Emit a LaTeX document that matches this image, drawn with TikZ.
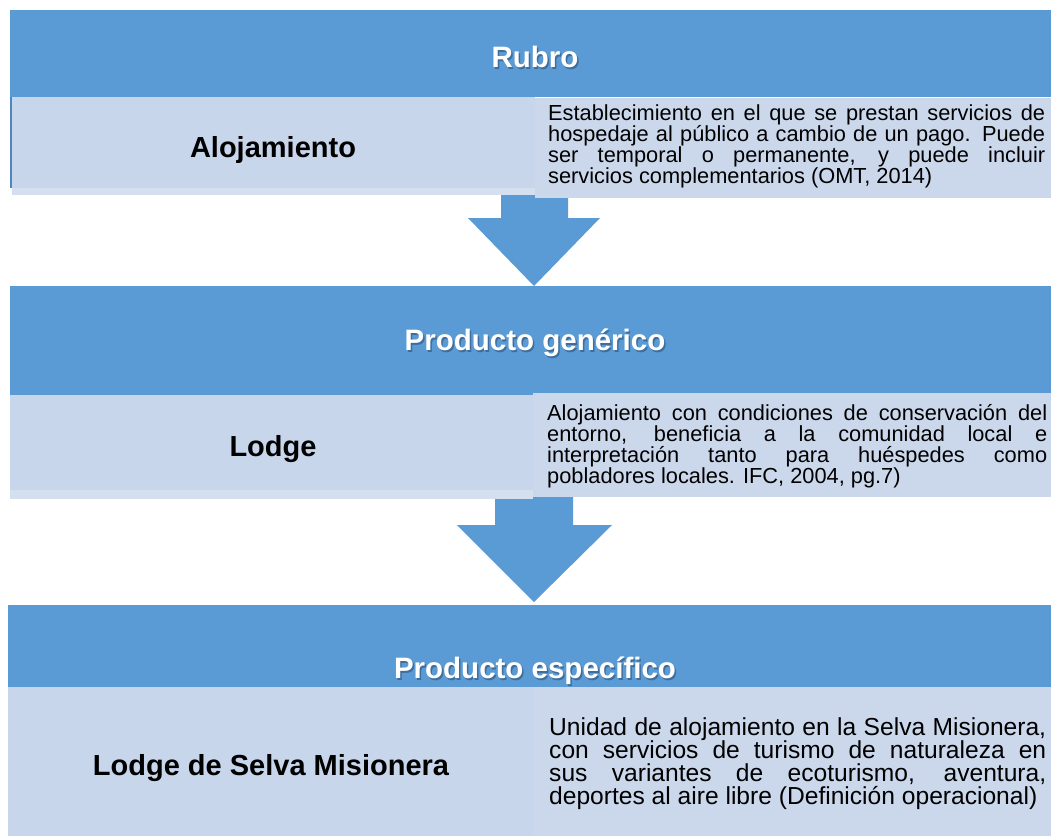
\documentclass[tikz,border=0pt]{standalone}
\usepackage{fontspec}
\setmainfont{Liberation Sans}
\definecolor{hdr}{HTML}{5B9BD5}
\definecolor{rowc}{HTML}{C8D6EC}
\definecolor{rowr}{HTML}{CBD8EC}
\definecolor{rowlt}{HTML}{D4DFF0}
\definecolor{shad}{HTML}{3F6E9C}
\definecolor{edge}{HTML}{4F86BE}
\tikzset{
  hdrbox/.style={fill=hdr, draw=none, anchor=north west, inner sep=0pt},
  cellbox/.style={fill=rowc, draw=none, anchor=north west, inner sep=0pt},
  rcellbox/.style={fill=rowr, draw=none, anchor=north west, inner sep=0pt},
  hdrtext/.style={font=\bfseries\fontsize{29.5}{34}\selectfont, text=white, inner sep=0pt},
  hdrshadow/.style={font=\bfseries\fontsize{29.5}{34}\selectfont, text=shad, inner sep=0pt},
  lbl/.style={font=\bfseries\fontsize{29}{34}\selectfont, text=black, inner sep=0pt},
  desc/.style={font=\fontsize{21.8}{21}\selectfont, text=black, text width=#1, align=justify, inner sep=0pt, anchor=north west},
  descbig/.style={font=\fontsize{24.6}{22.7}\selectfont, text=black, text width=#1, align=justify, inner sep=0pt, anchor=north west},
  blockarrow/.style={fill=hdr, draw=none}
}
\hbadness=10000
\begin{document}
\begin{tikzpicture}[x=1pt,y=-1pt]
\useasboundingbox (0,0) rectangle (1051,836);
\fill[white] (0,0) rectangle (1051,836);

% arrows (drawn first so the cells cover the shaft tops)
\coordinate (a1tip) at (534,286);
\coordinate (a2tip) at (534,602);
\fill[blockarrow] (501,190) -- (568,190) -- (568,218) -- (600,218) -- (a1tip) -- (468,218) -- (501,218) -- cycle;
\fill[blockarrow] (495,490) -- (573,490) -- (573,525) -- (612,525) -- (a2tip) -- (457,525) -- (495,525) -- cycle;

% block 1
\node[hdrbox, minimum width=1041pt, minimum height=87pt] (h1) at (10,10) {};
\node[cellbox, minimum width=525pt, minimum height=91pt] (l1) at (10,97) {};
\fill[rowlt] (12,188) rectangle (535,195);
\fill[edge] (10,97) rectangle (12,188);
\node[rcellbox, minimum width=516pt, minimum height=100pt] (r1) at (535,98) {};
\node[hdrshadow] (t1s) at (536.5,58.5) {Rubro};
\node[hdrtext] (t1) at (535,57) {Rubro};
\node[lbl] (lab1) at (273,150) {Alojamiento};
\node[desc=497pt] (d1) at (548,104) {Establecimiento en el que se prestan servicios de\linebreak hospedaje al público a cambio de un pago. Puede\linebreak ser temporal o permanente, y puede incluir\linebreak servicios complementarios (OMT, 2014)};

% block 2
\node[hdrbox, minimum width=1041pt, minimum height=109pt] (h2) at (10,286) {};
\node[cellbox, minimum width=523pt, minimum height=95pt] (l2) at (10,395) {};
\fill[rowlt] (10,490) rectangle (533,499);
\node[rcellbox, minimum width=518pt, minimum height=104pt] (r2) at (533,393) {};
\node[hdrshadow] (t2s) at (536.5,344.5) {Producto genérico};
\node[hdrtext] (t2) at (535,343) {Producto genérico};
\node[lbl] (lab2) at (273,449) {Lodge};
\node[desc=500pt] (d2) at (547,404) {Alojamiento con condiciones de conservación del\linebreak entorno, beneficia a la comunidad local e\linebreak interpretación tanto para huéspedes como\linebreak pobladores locales. IFC, 2004, pg.7)};

% block 3
\node[hdrbox, minimum width=1043pt, minimum height=82pt] (h3) at (8,605) {};
\node[cellbox, minimum width=525pt, minimum height=149pt] (l3) at (8,687) {};
\node[rcellbox, minimum width=518pt, minimum height=149pt] (r3) at (533,687) {};
\node[hdrshadow] (t3s) at (536.5,672.5) {Producto específico};
\node[hdrtext] (t3) at (535,671) {Producto específico};
\node[lbl] (lab3) at (271,768) {Lodge de Selva Misionera};
\node[descbig=497pt] (d3) at (549,717) {Unidad de alojamiento en la Selva Misionera,\linebreak con servicios de turismo de naturaleza en\linebreak sus variantes de ecoturismo, aventura,\linebreak deportes al aire libre (Definición operacional)};
\end{tikzpicture}
\end{document}
